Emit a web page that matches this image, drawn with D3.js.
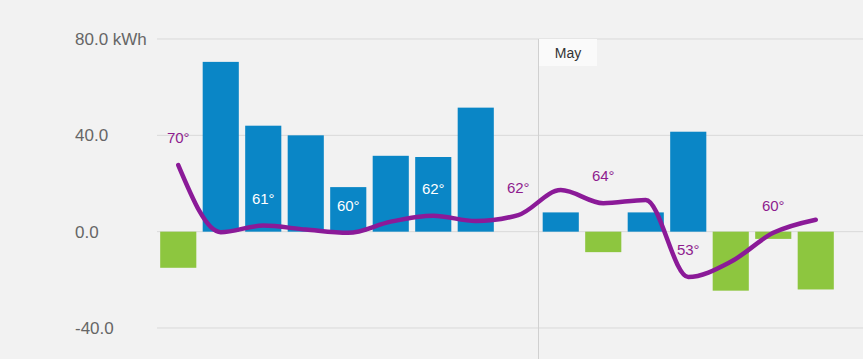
<!DOCTYPE html>
<html><head><meta charset="utf-8">
<script src="https://cdn.jsdelivr.net/npm/d3@7"></script>
<style>
html,body{margin:0;padding:0;background:#f2f2f2;}
svg{display:block;font-family:"Liberation Sans",Arial,sans-serif;}
</style></head><body>
<svg id="c" width="863" height="359"></svg>
<script>
const days = ["Apr 22","Apr 23","Apr 24","Apr 25","Apr 26","Apr 27","Apr 28","Apr 29","Apr 30","May 1","May 2","May 3","May 4","May 5","May 6","May 7"];
const energy = [-15, 70.5, 44, 40, 18.5, 31.5, 31, 51.5, 0, 8, -8.5, 8, 41.5, -24.5, -3, -24];
const temps = [70, 59.8, 60.8, 60.2, 59.7, 61.4, 62.3, 61.5, 62.4, 66.2, 64.2, 64.7, 53, 55.3, 59.7, 61.7];
const labelDays = [0, 2, 4, 6, 8, 10, 12, 14];
const yTicks = [80, 40, 0, -40];
const yTickLabels = ["80.0 kWh", "40.0", "0.0", "-40.0"];
const monthMarks = [{after: "Apr 30", label: "May"}];

const svg = d3.select("#c");
const W = 863, H = 359;

const x = d3.scaleBand().domain(days).range([157, 837]).paddingInner(0.15).paddingOuter(0.075);
const y = d3.scaleLinear().domain([-40, 80]).range([328, 39]);
const yT = d3.scaleLinear().domain([53, 70]).range([277, 165]);

// grid
svg.append("g").selectAll("line").data(yTicks).join("line")
  .attr("x1", 157).attr("x2", W)
  .attr("y1", d => y(d)).attr("y2", d => y(d))
  .attr("stroke", "#d9d9d9").attr("stroke-width", 1);

svg.append("g").selectAll("text").data(yTicks).join("text")
  .attr("x", 75).attr("y", d => y(d) + 6)
  .attr("font-size", 17).attr("fill", "#666")
  .text((d, i) => yTickLabels[i]);

// month separator
monthMarks.forEach(m => {
  const xm = x(m.after) + x.bandwidth() + (x.step() - x.bandwidth()) / 2 - 1;
  svg.append("line").attr("x1", xm).attr("x2", xm).attr("y1", y(80)).attr("y2", H)
    .attr("stroke", "#d0d0d0").attr("stroke-width", 1);
  svg.append("rect").attr("x", xm + 0.5).attr("y", y(80)).attr("width", 58).attr("height", 27)
    .attr("fill", "#fafafa");
  svg.append("text").attr("x", xm + 29.5).attr("y", y(80) + 19).attr("text-anchor", "middle")
    .attr("font-size", 14).attr("fill", "#333").text(m.label);
});

// bars
svg.append("g").selectAll("rect").data(days.map((d, i) => ({d, v: energy[i]}))).join("rect")
  .attr("x", d => x(d.d)).attr("width", x.bandwidth())
  .attr("y", d => y(Math.max(0, d.v)))
  .attr("height", d => Math.abs(y(d.v) - y(0)))
  .attr("fill", d => d.v >= 0 ? "#0a86c6" : "#8dc63f");

// temperature line
const line = d3.line()
  .x((d, i) => x(days[i]) + x.bandwidth() / 2)
  .y(d => yT(d))
  .curve(d3.curveMonotoneX);
svg.append("path").datum(temps).attr("d", line)
  .attr("fill", "none").attr("stroke", "#8b1a98").attr("stroke-width", 4.5)
  .attr("stroke-linecap", "round").attr("stroke-linejoin", "round");

// temperature labels
svg.append("g").selectAll("text").data(labelDays).join("text")
  .attr("x", i => x(days[i]) + x.bandwidth() / 2)
  .attr("y", i => yT(temps[i]) - 27 + 5)
  .attr("text-anchor", "middle").attr("font-size", 15)
  .attr("fill", i => {
    const ly = yT(temps[i]) - 27;
    return (energy[i] > 0 && ly > y(energy[i]) && ly < y(0)) ? "#ffffff" : "#8e1c8e";
  })
  .text(i => Math.round(temps[i]) + "°");
</script>
</body></html>
